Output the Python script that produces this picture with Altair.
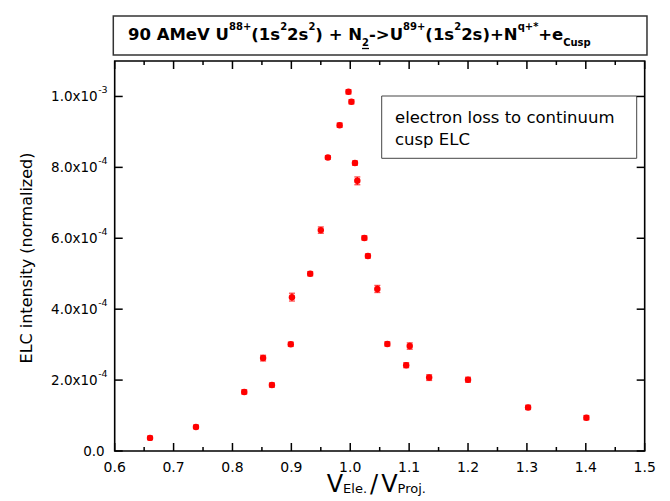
import altair as alt
import pandas as pd

# ---------------- data ----------------
x_vals = [0.660, 0.738, 0.820, 0.852, 0.867, 0.899, 0.901, 0.932, 0.950, 0.962,
          0.982, 0.997, 1.002, 1.008, 1.012, 1.024, 1.030, 1.046, 1.063, 1.095,
          1.101, 1.134, 1.200, 1.302, 1.401]
y_vals = [3.7e-5, 6.8e-5, 1.667e-4, 2.62e-4, 1.86e-4, 3.01e-4, 4.34e-4, 5.00e-4, 6.23e-4, 8.28e-4,
          9.19e-4, 1.013e-3, 9.85e-4, 8.12e-4, 7.62e-4, 6.01e-4, 5.50e-4, 4.57e-4, 3.02e-4, 2.42e-4,
          2.96e-4, 2.07e-4, 2.01e-4, 1.23e-4, 9.4e-5]
y_err = [5e-6, 5e-6, 6e-6, 8e-6, 6e-6, 6e-6, 1.1e-5, 6e-6, 9e-6, 5e-6,
         6e-6, 6e-6, 6e-6, 6e-6, 1.1e-5, 6e-6, 6e-6, 1.0e-5, 6e-6, 7e-6,
         9e-6, 8e-6, 7e-6, 6e-6, 6e-6]

x_major = [0.6, 0.7, 0.8, 0.9, 1.0, 1.1, 1.2, 1.3, 1.4, 1.5]
x_labels = ["0.6", "0.7", "0.8", "0.9", "1.0", "1.1", "1.2", "1.3", "1.4", "1.5"]
x_minor = [0.65, 0.75, 0.85, 0.95, 1.05, 1.15, 1.25, 1.35, 1.45]
y_major = [0.0, 2e-4, 4e-4, 6e-4, 8e-4, 1e-3]
y_label_base = ["0.0", "2.0x10", "4.0x10", "6.0x10", "8.0x10", "1.0x10"]
y_label_exp = ["", "-4", "-4", "-4", "-4", "-3"]

title_segments = [("90 AMeV U", "n"), ("88+", "sup"), ("(1s", "n"), ("2", "sup"),
                  ("2s", "n"), ("2", "sup"), (") + N", "n"), ("2", "sub"),
                  ("->U", "n"), ("89+", "sup"), ("(1s", "n"), ("2", "sup"),
                  ("2s)+N", "n"), ("q+*", "sup"), ("+e", "n"), ("Cusp", "sub")]
xtitle_segments = [("V", "n"), ("Ele.", "sub"), ("/", "n"), ("V", "n"), ("Proj.", "sub")]
legend_lines = ["electron loss to continuum", "cusp ELC"]
ytitle = "ELC intensity (normalized)"

# ---------------- layout ----------------
W, H = 530, 390
FONT = "DejaVu Sans"
RED = "#ff0000"

BOLD_W = {' ': 0.348, 'A': 0.774, 'M': 0.995, 'e': 0.678, 'V': 0.774, 'U': 0.812,
          'N': 0.837, '(': 0.457, ')': 0.457, 's': 0.595, '+': 0.838, '-': 0.415,
          '>': 0.838, '*': 0.500, 'q': 0.716, 'C': 0.734, 'u': 0.712, 'p': 0.716}
REG_W = {'V': 0.684, 'E': 0.632, 'l': 0.278, 'e': 0.615, '.': 0.318, '/': 0.337,
         'P': 0.603, 'r': 0.411, 'o': 0.612, 'j': 0.278}


def width_of(s, table, size):
    return sum(table.get(c, 0.696 if c.isdigit() else 0.6) for c in s) * size


def txt(s, x, y, size, weight="normal", align="left", baseline="alphabetic", angle=0):
    return alt.Chart(pd.DataFrame({"t": [s]})).mark_text(
        align=align, baseline=baseline, font=FONT, fontSize=size,
        fontWeight=weight, color="black", angle=angle
    ).encode(x=alt.value(x), y=alt.value(y), text=alt.Text("t:N"))


def box(x1, x2, y1, y2, stroke, sw):
    return alt.Chart(pd.DataFrame({"t": ["box"]})).mark_rect(
        fill="white", stroke=stroke, strokeWidth=sw
    ).encode(x=alt.value(x1), x2=alt.value(x2), y=alt.value(y1), y2=alt.value(y2))


xs = alt.Scale(domain=[0.6, 1.5], nice=False, zero=False)
ys = alt.Scale(domain=[0.0, 1.1e-3], nice=False, zero=False)

df = pd.DataFrame({"x": x_vals, "y": y_vals, "err": y_err})
df["lo"] = df["y"] - df["err"]
df["hi"] = df["y"] + df["err"]
base = alt.Chart(df)

XE = dict(scale=xs, axis=None)
YE = dict(scale=ys, axis=None)

points = base.mark_circle(size=42, color=RED, opacity=1).encode(
    x=alt.X("x:Q", **XE), y=alt.Y("y:Q", **YE))
bars = base.mark_rule(color=RED, strokeWidth=1.3).encode(
    x=alt.X("x:Q", **XE), y=alt.Y("lo:Q", **YE), y2="hi:Q")
cap_lo = base.mark_tick(color=RED, orient="horizontal", size=6, thickness=1.3).encode(
    x=alt.X("x:Q", **XE), y=alt.Y("lo:Q", **YE))
cap_hi = base.mark_tick(color=RED, orient="horizontal", size=6, thickness=1.3).encode(
    x=alt.X("x:Q", **XE), y=alt.Y("hi:Q", **YE))

xmaj = alt.Chart(pd.DataFrame({"v": x_major, "lab": x_labels}))
xmin = alt.Chart(pd.DataFrame({"v": x_minor}))
ymaj = alt.Chart(pd.DataFrame({"v": y_major}))
tick_layers = [
    xmaj.mark_rule(color="black", strokeWidth=1.5).encode(x=alt.X("v:Q", **XE), y=alt.value(H), y2=alt.value(H - 8)),
    xmaj.mark_rule(color="black", strokeWidth=1.5).encode(x=alt.X("v:Q", **XE), y=alt.value(0), y2=alt.value(8)),
    xmin.mark_rule(color="black", strokeWidth=1.5).encode(x=alt.X("v:Q", **XE), y=alt.value(H), y2=alt.value(H - 4)),
    xmin.mark_rule(color="black", strokeWidth=1.5).encode(x=alt.X("v:Q", **XE), y=alt.value(0), y2=alt.value(4)),
    ymaj.mark_rule(color="black", strokeWidth=1.5).encode(y=alt.Y("v:Q", **YE), x=alt.value(0), x2=alt.value(8)),
    ymaj.mark_rule(color="black", strokeWidth=1.5).encode(y=alt.Y("v:Q", **YE), x=alt.value(W), x2=alt.value(W - 8)),
]

xlab_layer = xmaj.mark_text(
    align="center", baseline="alphabetic", font=FONT, fontSize=14, color="black"
).encode(x=alt.X("v:Q", **XE), y=alt.value(H + 21), text="lab:N")

ylab = alt.Chart(pd.DataFrame({"v": y_major, "b": y_label_base, "e": y_label_exp}))
ylab_layers = [
    ylab.transform_filter("datum.e != ''").mark_text(
        align="right", baseline="middle", font=FONT, fontSize=13.5, color="black", dy=1
    ).encode(y=alt.Y("v:Q", **YE), x=alt.value(-17), text="b:N"),
    ylab.transform_filter("datum.e != ''").mark_text(
        align="left", baseline="middle", font=FONT, fontSize=9.5, color="black", dy=-6
    ).encode(y=alt.Y("v:Q", **YE), x=alt.value(-16.5), text="e:N"),
    ylab.transform_filter("datum.e == ''").mark_text(
        align="right", baseline="middle", font=FONT, fontSize=13.5, color="black", dy=1
    ).encode(y=alt.Y("v:Q", **YE), x=alt.value(-10), text="b:N"),
]

# title (rich text)
title_layers = [box(-1.4, 532.3, -45, -6, "#333333", 1.5)]
MAIN, SCR = 16.5, 10
cx = 13.3
ymain, ysup, ysub = -21.5, -31, -15
for s, kind in title_segments:
    size = MAIN if kind == "n" else SCR
    yy = {"n": ymain, "sup": ysup, "sub": ysub}[kind]
    title_layers.append(txt(s, cx, yy, size, weight="bold"))
    wseg = width_of(s, BOLD_W, size)
    if kind == "sub" and s == "2":
        title_layers.append(alt.Chart(pd.DataFrame({"t": ["u"]})).mark_rule(
            color="black", strokeWidth=1.3).encode(
            x=alt.value(cx), x2=alt.value(cx + wseg), y=alt.value(ysub + 2.5)))
    cx += wseg

# x-axis title (rich text)
xt_layers = []
cx = 212
for s, kind in xtitle_segments:
    size = 24 if kind == "n" else 13
    yy = 431 if kind == "n" else 432
    xt_layers.append(txt(s, cx, yy, size))
    cx += width_of(s, REG_W, size) + (3 if s in ("/", "Ele.") else 0)

# legend box
leg_layers = [box(267, 522, 35, 97.3, "#444444", 1),
              txt(legend_lines[0], 280.3, 62.3, 16.5),
              txt(legend_lines[1], 280.3, 84, 16.5)]

ytitle_layer = txt(ytitle, -87.7, 197, 16, align="center", baseline="middle", angle=270)

chart = alt.layer(
    *title_layers, *leg_layers, *tick_layers, bars, cap_lo, cap_hi, points,
    xlab_layer, *ylab_layers, *xt_layers, ytitle_layer
).properties(
    width=W, height=H,
    autosize=alt.AutoSizeParams(type="none"),
    padding={"left": 106.7, "top": 53, "right": 16, "bottom": 48},
).configure_view(stroke="black", strokeWidth=1.6)

chart.save("out.html", embed_options={"renderer": "svg", "actions": False})
